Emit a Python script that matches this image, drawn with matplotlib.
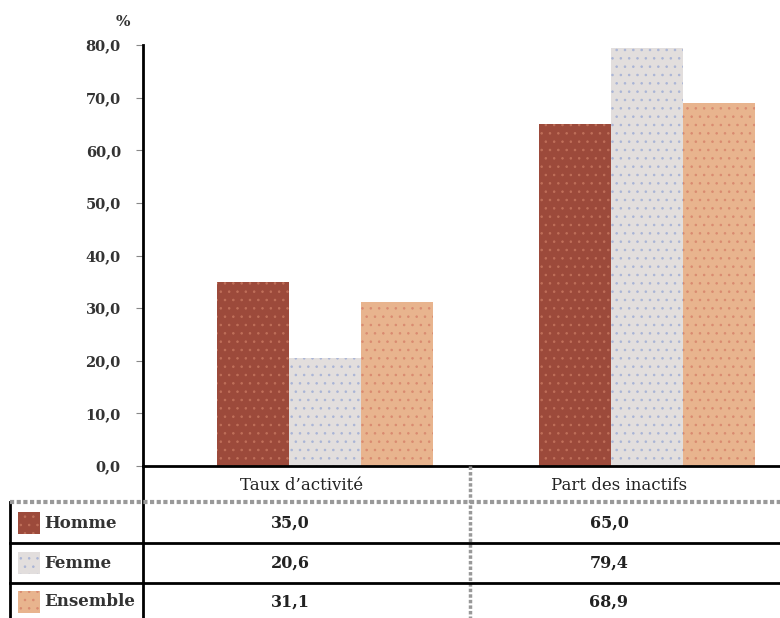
import numpy as np
import matplotlib
matplotlib.use('Agg')
import matplotlib.pyplot as plt
from matplotlib.patches import Rectangle

# data
categories = ['Taux d\u2019activité', 'Part des inactifs']
series = ['Homme', 'Femme', 'Ensemble']
homme = [35.0, 65.0]
femme = [20.6, 79.4]
ensemble = [31.1, 68.9]
values = [homme, femme, ensemble]
colors = ['#9c4a3b', '#e2dedd', '#e8b48e']
hatch_colors = ['#c0705a', '#a9b4d6', '#d98a70']

plt.rcParams['font.family'] = ['DejaVu Serif']
plt.rcParams['hatch.linewidth'] = 0.6

W, H = 780, 618
fig = plt.figure(figsize=(W / 100, H / 100), dpi=100)

x_left, x_mid, y_top, y_zero = 143, 470, 45, 466
unit = x_mid - x_left
ax = fig.add_axes([x_left / W, (H - y_zero) / H, (W - x_left) / W, (y_zero - y_top) / H])

centers = np.arange(len(categories)) * 0.985 + 0.557
width = 0.22
for i, (vals, c, hc) in enumerate(zip(values, colors, hatch_colors)):
    bars = ax.bar(centers + (i - 1) * width, vals, width, color=c, linewidth=0)
    for b in bars:
        b.set_hatch('..')
        b.set_edgecolor(hc)

ax.set_xlim(0, (W - x_left) / unit)
ax.set_ylim(0, 80)
ax.set_yticks(np.arange(0, 81, 10))
ax.set_yticklabels([f'{v:.1f}'.replace('.', ',') for v in np.arange(0, 81, 10)],
                   fontsize=10.5, fontweight='bold')
ax.tick_params(axis='y', length=5, width=0.8, color='#888888', pad=11, labelcolor='#333333')
ax.set_xticks([])
for s in ['top', 'right']:
    ax.spines[s].set_visible(False)
ax.spines['left'].set_linewidth(2)
ax.spines['bottom'].set_linewidth(2)
ax.spines['bottom'].set_position(('data', 0))

# table overlay in pixel coordinates
tab = fig.add_axes([0, 0, 1, 1], zorder=5)
tab.set_xlim(0, W)
tab.set_ylim(H, 0)
tab.axis('off')
tab.patch.set_alpha(0)

tab.plot([x_left, x_left], [y_zero, H], color='black', lw=2)
tab.plot([x_mid, x_mid], [y_zero, H], color='#999999', lw=2.5, ls=(0, (1, 0.6)))
tab.plot([10, 10], [502, H], color='black', lw=2)
tab.plot([10, W], [502, 502], color='#999999', lw=3, ls=(0, (1, 0.6)))
for y in [543, 583]:
    tab.plot([10, W], [y, y], color='black', lw=2)

col_centers = [302, 619]
val_centers = [290, 609]
for cx, cat in zip(col_centers, categories):
    tab.text(cx, 485, cat, ha='center', va='center', fontsize=12, color='#222222')

row_y = [523, 563, 602]
for ry, name, vals, c, hc in zip(row_y, series, values, colors, hatch_colors):
    tab.add_patch(Rectangle((18, ry - 11), 22, 22, facecolor=c, edgecolor=hc,
                            hatch='..', lw=0))
    tab.text(44, ry, name, ha='left', va='center', fontsize=12, fontweight='bold',
             color='#333333')
    for cx, v in zip(val_centers, vals):
        tab.text(cx, ry, f'{v:.1f}'.replace('.', ','), ha='center', va='center',
                 fontsize=11.5, fontweight='bold', color='#222222')

tab.text(123, 22, '%', ha='center', va='center', fontsize=11, fontweight='bold',
         color='#333333')

fig.savefig('out.png', dpi=100)
